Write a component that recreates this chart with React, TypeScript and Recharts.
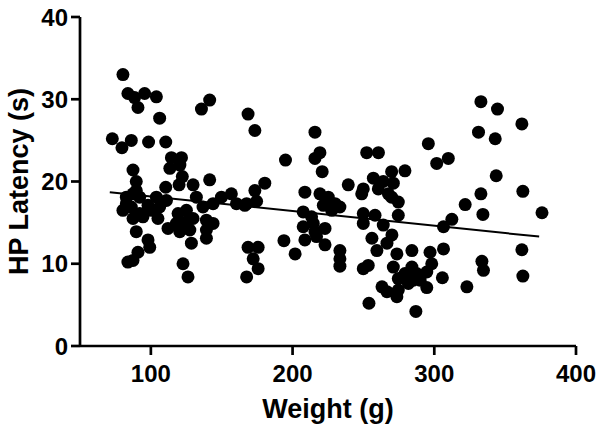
import React from 'react';
import { ScatterChart, Scatter, XAxis, YAxis, ReferenceLine } from 'recharts';

const weight: number[] = [
  80.3, 83.8, 88.5, 90.9, 95.6, 103.9, 106.2, 135.7, 141.5, 72.8, 79.6, 86.2, 98.4, 110.5,
  114.5, 121.6, 113.4, 120.5, 87.4, 89.7, 89.7, 110.5, 122.2, 119.9, 129.8, 141.5, 132.1,
  136.8, 143.9, 149.8, 156.8, 160.4, 166.3, 82.7, 87.4, 92.1, 80.3, 86.2, 92.1, 87.4, 82.7,
  98.0, 103.9, 106.2, 105.0, 111.0, 100.4, 94.4, 119.2, 125.1, 118.0, 125.1, 112.1, 120.4,
  127.5, 129.8, 139.2, 143.9, 139.2, 139.2, 128.6, 89.7, 98.0, 99.2, 90.9, 87.4, 83.8,
  122.7, 126.2,
  168.6, 173.4, 215.8, 219.3, 215.8, 220.9, 195.0, 252.3, 260.6, 180.4, 173.4, 174.6, 167.6,
  208.7, 219.3, 225.2, 221.7, 230.0, 227.6, 233.4, 239.3, 249.9, 248.8, 257.0, 260.5, 264.0,
  269.9, 279.3, 271.1, 267.6, 274.6, 269.9, 207.5, 213.4, 214.6, 249.9, 249.9, 258.2, 264.0,
  274.6, 207.5, 208.7, 215.8, 222.9, 216.9, 222.9, 193.9, 201.8, 233.4, 233.4, 233.4, 249.9,
  253.4, 256.0, 259.5, 266.6, 270.1, 273.6, 284.2, 271.1, 274.6, 279.3, 284.2, 281.7, 263.1,
  266.6, 273.6, 274.6, 253.9, 287.0, 168.6, 175.7, 172.2, 175.7, 167.6,
  332.9, 344.6, 361.8, 331.2, 343.0, 295.8, 301.7, 309.9, 343.7, 332.9, 362.5, 321.8, 334.3,
  376.0, 312.4, 306.5, 297.0, 306.5, 298.2, 333.6, 334.7, 361.8, 362.5, 287.6, 294.7, 290.0,
  285.2, 294.7, 305.7, 323.0,
];

const latency: number[] = [
  33.0, 30.7, 30.2, 29.0, 30.7, 30.3, 27.7, 28.8, 29.9, 25.2, 24.1, 25.0, 24.8, 24.8,
  22.9, 22.9, 21.6, 22.0, 21.4, 20.0, 18.9, 19.3, 20.6, 19.6, 19.6, 20.2, 18.1,
  16.9, 17.3, 18.1, 18.5, 17.3, 17.1, 18.1, 18.5, 18.1, 16.5, 16.9, 16.1, 15.5, 17.3,
  17.1, 18.1, 16.9, 15.5, 17.7, 16.5, 15.7, 16.1, 16.5, 14.9, 15.1, 14.3, 13.9,
  14.1, 15.5, 15.3, 14.9, 14.1, 13.1, 12.5, 13.9, 12.9, 12.0, 11.4, 10.4, 10.2,
  10.0, 8.4,
  28.2, 26.2, 26.0, 23.5, 22.8, 21.2, 22.6, 23.5, 23.5, 19.8, 18.9, 17.6, 17.3,
  18.7, 18.5, 18.1, 17.1, 17.3, 16.5, 16.9, 19.6, 19.1, 18.5, 20.4, 19.1, 20.0,
  21.2, 21.3, 19.8, 18.5, 17.5, 18.1, 16.3, 15.7, 14.9, 16.1, 14.9, 15.9, 14.7,
  15.9, 14.5, 12.9, 13.9, 14.3, 13.3, 12.3, 12.8, 11.2, 11.6, 10.6, 9.7, 9.4,
  9.8, 13.1, 11.6, 12.5, 13.5, 11.2, 11.6, 9.6, 8.2, 8.8, 9.6, 7.6, 7.2,
  6.6, 6.0, 6.8, 5.2, 4.2, 12.0, 12.0, 10.6, 9.4, 8.4,
  29.7, 28.8, 27.0, 26.0, 25.2, 24.6, 22.2, 22.8, 20.7, 18.5, 18.8, 17.2, 16.0,
  16.2, 15.4, 14.5, 11.4, 11.8, 10.0, 10.3, 9.2, 11.7, 8.5, 8.8, 9.0, 8.0,
  8.0, 7.1, 8.3, 7.2,
];

const fitWeight: number[] = [71, 374];
const fitLatency: number[] = [18.7, 13.3];

const xTicks: number[] = [100, 200, 300, 400];
const yTicks: number[] = [0, 10, 20, 30, 40];

const data = weight.map((w, i) => ({ w, l: latency[i] }));

const FONT = '"Liberation Sans", Arial, sans-serif';

const Dot = (p: any) => <circle cx={p.cx} cy={p.cy} r={6.5} fill="#000" />;

export default function App() {
  return (
    <div style={{ position: 'absolute', left: 0, top: 0, width: 600, height: 429, background: '#fff' }}>
      <ScatterChart width={600} height={429} margin={{ top: 17, right: 24, bottom: 0, left: 0 }}>
        <XAxis
          type="number"
          dataKey="w"
          domain={[50, 400]}
          ticks={xTicks}
          height={83}
          axisLine={{ stroke: '#000', strokeWidth: 2.7 }}
          tickLine={{ stroke: '#000', strokeWidth: 2.7 }}
          tickSize={9}
          tickMargin={10}
          tick={{ fill: '#000', fontSize: 24, fontWeight: 'bold', fontFamily: FONT }}
          label={{ value: 'Weight (g)', position: 'insideBottom', offset: 11, fill: '#000', fontSize: 27, fontWeight: 'bold', fontFamily: FONT }}
        />
        <YAxis
          type="number"
          dataKey="l"
          domain={[0, 40]}
          ticks={yTicks}
          width={80}
          axisLine={{ stroke: '#000', strokeWidth: 2.7 }}
          tickLine={{ stroke: '#000', strokeWidth: 2.7 }}
          tickSize={9}
          tickMargin={3}
          tick={{ fill: '#000', fontSize: 24, fontWeight: 'bold', fontFamily: FONT }}
          label={{ value: 'HP Latency (s)', angle: -90, position: 'insideLeft', offset: 18, fill: '#000', fontSize: 27, fontWeight: 'bold', fontFamily: FONT, style: { textAnchor: 'middle' } }}
        />
        <Scatter data={data} fill="#000" shape={Dot} isAnimationActive={false} />
        <ReferenceLine
          segment={[{ x: fitWeight[0], y: fitLatency[0] }, { x: fitWeight[1], y: fitLatency[1] }]}
          stroke="#000"
          strokeWidth={2}
        />
      </ScatterChart>
    </div>
  );
}
